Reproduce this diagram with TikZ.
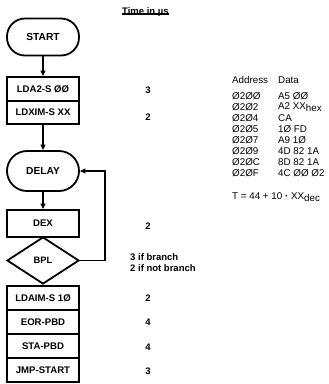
\documentclass[tikz,border=0pt]{standalone}
\usepackage{fontspec}
\setmainfont{Liberation Sans}
\usetikzlibrary{shapes.geometric,arrows.meta}
\tikzset{
  box/.style={draw, line width=1.8pt, minimum width=72pt, inner sep=0pt, font=\bfseries\fontsize{9.6}{11}\selectfont},
  stadium/.style={draw, line width=1.8pt, rounded corners=18pt, minimum width=72pt, inner sep=0pt, font=\bfseries\fontsize{10.2}{12}\selectfont},
  flow/.style={line width=1.2pt, -{Triangle[length=5.5pt,width=5pt]}},
  tlab/.style={font=\bfseries\fontsize{9.5}{11}\selectfont, inner sep=0pt},
  dlab/.style={font=\fontsize{9.8}{11}\selectfont, inner sep=0pt, anchor=west},
}
\begin{document}
\begin{tikzpicture}[x=1pt,y=-1pt]
\useasboundingbox (0,0) rectangle (329,384);
% flowchart
\node[stadium, minimum height=37pt] (start) at (43,37) {START};
\node[box, minimum height=24pt] (b1) at (43,89) {LDA2-S ØØ};
\node[box, minimum height=23pt] (b2) at (43,112.5) {LDXIM-S XX};
\node[stadium, minimum height=40pt, rounded corners=20pt] (delay) at (43,171) {DELAY};
\node[box, minimum height=27pt] (dex) at (43,223.5) {DEX};
\node[diamond, draw, line width=1.8pt, minimum width=72pt, minimum height=47pt, inner sep=0pt, aspect=1.53, font=\bfseries\fontsize{9.3}{11}\selectfont] (bpl) at (43,260.5) {BPL};
\node[box, minimum height=24pt] (b3) at (43,298) {LDAIM-S 1Ø};
\node[box, minimum height=24pt] (b4) at (43,322) {EOR-PBD};
\node[box, minimum height=24pt] (b5) at (43,346) {STA-PBD};
\node[box, minimum height=24pt] (b6) at (43,370) {JMP-START};
\coordinate (loopb) at (105,260.5);
\coordinate (loopt) at (105,171);
\draw[flow] (start) -- (b1);
\draw[flow] (b2) -- (delay);
\draw[flow] (delay) -- (dex);
\draw[flow] (bpl.east) -- (loopb) -- (loopt) -- (delay.east);
% time column
\node[tlab, anchor=west] (th) at (122,12) {Time in µs};
\draw[line width=1.6pt] (th.south west) ++(0,-2.5) coordinate (ul1) -- (th.south east |- ul1);
\node[tlab] (t1) at (148,90) {3};
\node[tlab] (t2) at (148,117) {2};
\node[tlab] (t3) at (148,226) {2};
\node[tlab, anchor=west] (t4) at (130,257) {3 if branch};
\node[tlab, anchor=west] (t5) at (130,268) {2 if not branch};
\node[tlab] (t6) at (148,298) {2};
\node[tlab] (t7) at (148,322) {4};
\node[tlab] (t8) at (148,347) {4};
\node[tlab] (t9) at (148,371) {3};
% listing
\node[dlab] (ah) at (232,80) {Address};
\node[dlab] (dh) at (278,80) {Data};
\foreach \a/\d [count=\i from 0] in {Ø2ØØ/A5 ØØ, Ø2Ø2/{A2 XX\raisebox{-2.5pt}{hex}}, Ø2Ø4/CA, Ø2Ø5/1Ø FD, Ø2Ø7/A9 1Ø, Ø2Ø9/4D 82 1A, Ø2ØC/8D 82 1A, Ø2ØF/4C ØØ Ø2}{
  \node[dlab] (a\i) at (232,96+11*\i) {\a};
  \node[dlab] (d\i) at (278,96+11*\i) {\d};
}
\node[dlab] (tf) at (232,197) {T = 44 + 10 \textbf{·} XX\raisebox{-2.5pt}{dec}};
\end{tikzpicture}
\end{document}
